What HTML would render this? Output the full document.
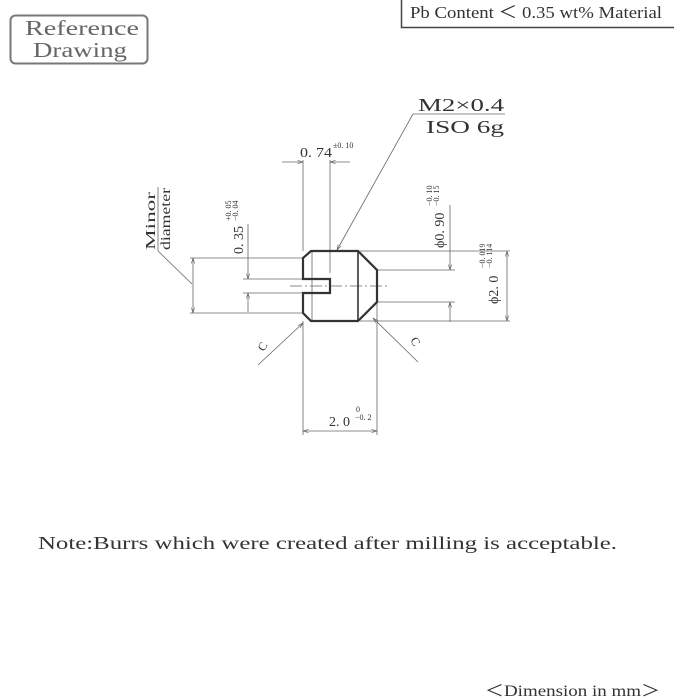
<!DOCTYPE html>
<html><head><meta charset="utf-8"><style>
html,body{margin:0;padding:0;background:#fff;width:674px;height:700px;overflow:hidden}
svg{display:block}
text{font-family:"Liberation Serif",serif;fill:#333}
</style></head><body>
<svg width="674" height="700" viewBox="0 0 674 700" xmlns="http://www.w3.org/2000/svg">
<defs>
<marker id="a" viewBox="0 0 10 10" refX="10" refY="5" markerWidth="7" markerHeight="7" orient="auto-start-reverse"><path d="M0,2 L10,5 L0,8" fill="none" stroke="#555" stroke-width="1"/></marker>
</defs>
<rect x="10.5" y="15.5" width="137" height="48" rx="5" fill="none" stroke="#777" stroke-width="2"/>
<text x="25" y="35" font-size="21" textLength="114" lengthAdjust="spacingAndGlyphs" style="fill:#666">Reference</text>
<text x="33" y="57" font-size="21" textLength="94" lengthAdjust="spacingAndGlyphs" style="fill:#666">Drawing</text>
<path d="M401.5,0 V27.5 H674" fill="none" stroke="#444" stroke-width="1.5"/>
<text x="410" y="18" font-size="17" textLength="252" lengthAdjust="spacingAndGlyphs" style="fill:#333">Pb Content ＜ 0.35 wt% Material</text>

<g stroke="#666" stroke-width="0.8" fill="none">
<line x1="190" y1="258" x2="303" y2="258"/>
<line x1="190" y1="313" x2="303" y2="313"/>
<line x1="193" y1="258" x2="193" y2="313" marker-start="url(#a)" marker-end="url(#a)"/>
<line x1="158" y1="251" x2="192" y2="284"/>
<line x1="158" y1="251" x2="158" y2="187"/>
<line x1="243" y1="279" x2="303" y2="279"/>
<line x1="243" y1="293" x2="303" y2="293"/>
<line x1="248" y1="224" x2="248" y2="279" marker-end="url(#a)"/>
<line x1="248" y1="312" x2="248" y2="293" marker-end="url(#a)"/>
<line x1="303" y1="160" x2="303" y2="251"/>
<line x1="330" y1="160" x2="330" y2="273"/>
<line x1="282" y1="162" x2="303" y2="162" marker-end="url(#a)"/>
<line x1="350" y1="162" x2="330" y2="162" marker-end="url(#a)"/>
<line x1="413" y1="114" x2="505" y2="114"/>
<line x1="413" y1="114" x2="337" y2="250" marker-end="url(#a)"/>
<line x1="377" y1="270" x2="455" y2="270"/>
<line x1="377" y1="302" x2="455" y2="302"/>
<line x1="450" y1="205" x2="450" y2="270" marker-end="url(#a)"/>
<line x1="450" y1="322" x2="450" y2="302" marker-end="url(#a)"/>
<line x1="360" y1="251" x2="510" y2="251"/>
<line x1="360" y1="321" x2="510" y2="321"/>
<line x1="507" y1="251" x2="507" y2="321" marker-start="url(#a)" marker-end="url(#a)"/>
<line x1="258" y1="365" x2="303" y2="323" marker-end="url(#a)"/>
<line x1="418" y1="362" x2="373" y2="318" marker-end="url(#a)"/>
<line x1="303" y1="321" x2="303" y2="435"/>
<line x1="377" y1="302" x2="377" y2="435"/>
<line x1="303" y1="431" x2="377" y2="431" marker-start="url(#a)" marker-end="url(#a)"/>
<line x1="290" y1="286" x2="390" y2="286" stroke-dasharray="12,3,2,3"/>
<line x1="312" y1="251" x2="312" y2="321"/>
</g>
<path d="M311,251 H358 L377,270 V302 L358,321 H311 L303,313 V293 H330 V279 H303 V258 Z" fill="none" stroke="#333" stroke-width="2.2"/>
<line x1="358" y1="251" x2="358" y2="321" stroke="#333" stroke-width="1.6"/>

<text x="418" y="111" font-size="18" textLength="86" lengthAdjust="spacingAndGlyphs" style="fill:#333">M2×0.4</text>
<text x="426" y="133" font-size="18" textLength="78" lengthAdjust="spacingAndGlyphs" style="fill:#333">ISO 6g</text>
<text x="300" y="157" font-size="14" textLength="32" lengthAdjust="spacingAndGlyphs">0. 74</text>
<text x="333" y="148" font-size="8">±0. 10</text>
<text transform="translate(155,250) rotate(-90)" font-size="14" textLength="58" lengthAdjust="spacingAndGlyphs">Minor</text>
<text transform="translate(170,250) rotate(-90)" font-size="14" textLength="62" lengthAdjust="spacingAndGlyphs">diameter</text>
<text transform="translate(243,254) rotate(-90)" font-size="14">0. 35</text>
<text transform="translate(231,221) rotate(-90)" font-size="8">+0. 05</text>
<text transform="translate(238,221) rotate(-90)" font-size="8">−0. 04</text>
<text transform="translate(444,248) rotate(-90)" font-size="14">ϕ0. 90</text>
<text transform="translate(432,206) rotate(-90)" font-size="8">−0. 10</text>
<text transform="translate(439,206) rotate(-90)" font-size="8">−0. 15</text>
<text transform="translate(498,304) rotate(-90)" font-size="14">ϕ2. 0</text>
<text transform="translate(485,268) rotate(-90)" font-size="8">−0. 019</text>
<text transform="translate(492,268) rotate(-90)" font-size="8">−0. 114</text>
<text transform="translate(264,352) rotate(-60)" font-size="12">C</text>
<text transform="translate(410,340) rotate(60)" font-size="12">C</text>
<text x="329" y="426" font-size="14">2. 0</text>
<text x="356" y="412" font-size="8">0</text>
<text x="355" y="420" font-size="8">−0. 2</text>

<text x="38" y="549" font-size="18" textLength="579" lengthAdjust="spacingAndGlyphs" style="fill:#333">Note:Burrs which were created after milling is acceptable.</text>
<text x="485" y="696" font-size="16" textLength="175" lengthAdjust="spacingAndGlyphs" style="fill:#333">＜Dimension in mm＞</text>
</svg>
</body></html>
